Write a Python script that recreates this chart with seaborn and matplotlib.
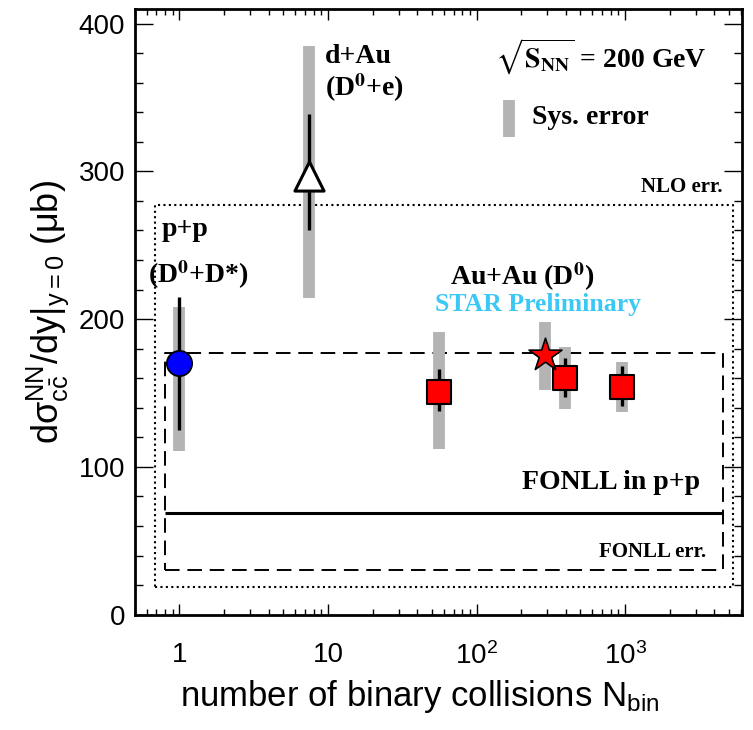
import numpy as np
import pandas as pd
import matplotlib.pyplot as plt
import seaborn as sns
from matplotlib.ticker import FixedLocator, FixedFormatter, MultipleLocator, NullFormatter

# ---- data ----
# p+p (D0+D*)
pp_nbin = [1.0]
pp_sigma = [170]
pp_stat = [125, 215]
pp_sys = [111, 208]

# d+Au (D0+e)
dau_nbin = [7.5]
dau_sigma = [297]
dau_stat = [260, 339]
dau_sys = [214, 385]

# Au+Au (D0), squares
auau_nbin = [56, 392, 950]
auau_sigma = [151, 160, 154]
auau_stat_lo = [138, 147, 141]
auau_stat_hi = [166, 174, 168]
auau_sys_lo = [112, 139, 137]
auau_sys_hi = [191, 181, 171]

# Au+Au (D0), star
star_nbin = [290]
star_sigma = [176]
star_sys = [152, 198]

# theory
fonll_pp = 69
fonll_err = [30, 177]
fonll_nbin = [0.8, 4550]
nlo_err = [19, 277]
nlo_nbin = [0.68, 5300]

xtick_vals = [1, 10, 100, 1000]
xtick_labels = ["1", "10", "10$^{2}$", "10$^{3}$"]
ytick_vals = [0, 100, 200, 300, 400]

# ---- style ----
sns.set_style("ticks", {"axes.edgecolor": "black", "xtick.color": "black",
                        "ytick.color": "black", "text.color": "black",
                        "axes.labelcolor": "black"})
plt.rcParams["font.family"] = ["Liberation Sans", "DejaVu Sans"]
plt.rcParams["mathtext.fontset"] = "custom"
plt.rcParams["mathtext.rm"] = "Liberation Sans"
plt.rcParams["mathtext.it"] = "Liberation Sans:italic"
plt.rcParams["mathtext.bf"] = "Liberation Sans:bold"
plt.rcParams["mathtext.sf"] = "Liberation Sans"

SYS = "#b4b4b4"
serif = dict(family="Liberation Serif", weight="bold", math_fontfamily="stix")

fig = plt.figure(figsize=(7.53, 7.30), dpi=100)
ax = fig.add_axes([0.179, 0.158, 0.806, 0.830])
ax.set_xscale("log")

# theory boxes
ax.plot([nlo_nbin[0], nlo_nbin[1], nlo_nbin[1], nlo_nbin[0], nlo_nbin[0]],
        [nlo_err[0], nlo_err[0], nlo_err[1], nlo_err[1], nlo_err[0]],
        color="black", lw=1.5, ls=(0, (1, 1.6)), zorder=1)
ax.plot([fonll_nbin[0], fonll_nbin[1], fonll_nbin[1], fonll_nbin[0], fonll_nbin[0]],
        [fonll_err[0], fonll_err[0], fonll_err[1], fonll_err[1], fonll_err[0]],
        color="black", lw=1.4, ls=(0, (7.5, 4)), zorder=1)
ax.hlines(fonll_pp, fonll_nbin[0], fonll_nbin[1], color="black", lw=2.2, zorder=1)

# systematic errors
ax.vlines(pp_nbin, pp_sys[0], pp_sys[1], color=SYS, lw=8.5, zorder=2)
ax.vlines(dau_nbin, dau_sys[0], dau_sys[1], color=SYS, lw=8.5, zorder=2)
ax.vlines(auau_nbin, auau_sys_lo, auau_sys_hi, color=SYS, lw=8.5, zorder=2)
ax.vlines(star_nbin, star_sys[0], star_sys[1], color=SYS, lw=8.5, zorder=2)

# statistical errors
ax.vlines(pp_nbin, pp_stat[0], pp_stat[1], color="black", lw=2.4, zorder=3)
ax.vlines(dau_nbin, dau_stat[0], dau_stat[1], color="black", lw=2.4, zorder=3)
ax.vlines(auau_nbin, auau_stat_lo, auau_stat_hi, color="black", lw=2.4, zorder=3)

# markers
sns.scatterplot(x=pp_nbin, y=pp_sigma, marker="o", s=330, color="#0000ff",
                edgecolor="black", linewidth=1.3, zorder=5, ax=ax)
sns.scatterplot(x=dau_nbin, y=dau_sigma, marker="^", s=440, color="white",
                edgecolor="black", linewidth=2.2, zorder=5, ax=ax)
sns.scatterplot(x=auau_nbin, y=auau_sigma, marker="s", s=320, color="#ff0000",
                edgecolor="black", linewidth=1.5, zorder=5, ax=ax)
sns.scatterplot(x=star_nbin, y=star_sigma, marker="*", s=620, color="#ff0000",
                edgecolor="black", linewidth=1.2, zorder=6, ax=ax)

# axes
ax.set_xlim(0.5, 6100)
ax.set_ylim(0, 410)
ax.xaxis.set_major_locator(FixedLocator(xtick_vals))
ax.xaxis.set_major_formatter(FixedFormatter(xtick_labels))
minor_x = [m * 10.0 ** e for e in range(-1, 4) for m in range(2, 10)]
ax.xaxis.set_minor_locator(FixedLocator(minor_x))
ax.xaxis.set_minor_formatter(NullFormatter())
ax.yaxis.set_major_locator(FixedLocator(ytick_vals))
ax.yaxis.set_minor_locator(MultipleLocator(20))

for s in ax.spines.values():
    s.set_linewidth(2)
    s.set_visible(True)
ax.tick_params(axis="both", which="both", direction="in", top=True, right=True, width=1)
ax.tick_params(axis="x", which="major", length=8, pad=20, labelsize=20)
ax.tick_params(axis="x", which="minor", length=4)
ax.tick_params(axis="y", which="major", length=13, pad=7, labelsize=20)
ax.tick_params(axis="y", which="minor", length=6)

ax.set_xlabel(r"number of binary collisions N$_{\mathrm{bin}}$", fontsize=25)
ax.set_ylabel(r"dσ${}^{\mathrm{NN}}_{\mathrm{c\bar{c}}}$/dy$|_{\mathrm{y=0}}$ ($\mathrm{\mu}$b)",
              fontsize=26)
ax.xaxis.set_label_coords(0.47, -0.105)
ax.yaxis.set_label_coords(-0.105, 0.5)

# annotations
ax.text(0.313, 0.921, "d+Au", transform=ax.transAxes, fontsize=20, va="center", **serif)
ax.text(0.313, 0.870, r"(D$^{\mathbf{0}}$+e)", transform=ax.transAxes, fontsize=20,
        va="center", **serif)
ax.text(0.593, 0.921, r"$\sqrt{\mathbf{S}_{\mathbf{NN}}}$ = 200 GeV", transform=ax.transAxes,
        fontsize=20, va="center", **serif)
ax.plot([0.616, 0.616], [0.789, 0.850], transform=ax.transAxes, color=SYS, lw=8.5,
        solid_capstyle="butt")
ax.text(0.654, 0.820, "Sys. error", transform=ax.transAxes, fontsize=20, va="center", **serif)
ax.text(0.969, 0.706, "NLO err.", transform=ax.transAxes, fontsize=15, va="center",
        ha="right", **serif)
ax.text(0.044, 0.635, "p+p", transform=ax.transAxes, fontsize=20, va="center", **serif)
ax.text(0.021, 0.561, r"(D$^{\mathbf{0}}$+D*)", transform=ax.transAxes, fontsize=20,
        va="center", **serif)
ax.text(0.519, 0.558, r"Au+Au (D$^{\mathbf{0}}$)", transform=ax.transAxes, fontsize=20,
        va="center", **serif)
ax.text(0.494, 0.512, "STAR Preliminary", transform=ax.transAxes, fontsize=18.5,
        va="center", color="#3cc8f5", **serif)
ax.text(0.931, 0.218, "FONLL in p+p", transform=ax.transAxes, fontsize=20, va="center",
        ha="right", **serif)
ax.text(0.942, 0.104, "FONLL err.", transform=ax.transAxes, fontsize=15, va="center",
        ha="right", **serif)

fig.savefig("out.png", dpi=100)
